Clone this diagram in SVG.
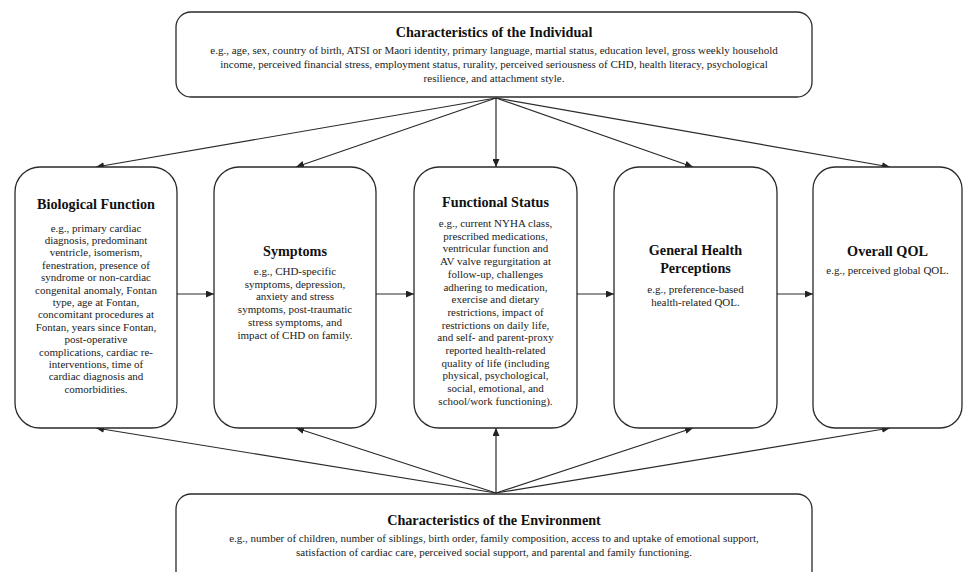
<svg xmlns="http://www.w3.org/2000/svg" width="963" height="572" viewBox="0 0 963 572">
<defs>
<marker id="arr" viewBox="0 0 8 7" refX="8" refY="3.5" markerWidth="8" markerHeight="7" markerUnits="userSpaceOnUse" orient="auto">
<path d="M0,0 L8,3.5 L0,7 z" fill="#222"/>
</marker>
<style>
.box{fill:#fff;stroke:#2a2a2a;stroke-width:1.3}
.ttl{font-weight:bold;font-size:14.2px;fill:#111;text-anchor:middle}
.bd{font-size:11px;fill:#222;text-anchor:middle}
.cn{stroke:#2a2a2a;stroke-width:1.2;fill:none;marker-end:url(#arr)}
</style>
</defs>
<rect width="963" height="572" fill="#fff"/>

<g id="connectors">
<line class="cn" x1="496" y1="98" x2="96" y2="167"/>
<line class="cn" x1="496" y1="98" x2="296" y2="167"/>
<line class="cn" x1="496" y1="98" x2="496" y2="167"/>
<line class="cn" x1="496" y1="98" x2="693" y2="167"/>
<line class="cn" x1="496" y1="98" x2="890" y2="167"/>
<line class="cn" x1="496" y1="493" x2="96" y2="428"/>
<line class="cn" x1="496" y1="493" x2="296" y2="428"/>
<line class="cn" x1="496" y1="493" x2="496" y2="428"/>
<line class="cn" x1="496" y1="493" x2="693" y2="428"/>
<line class="cn" x1="496" y1="493" x2="890" y2="428"/>
<line class="cn" x1="177" y1="294" x2="214" y2="294"/>
<line class="cn" x1="376" y1="294" x2="414" y2="294"/>
<line class="cn" x1="577" y1="294" x2="614" y2="294"/>
<line class="cn" x1="777" y1="294" x2="813" y2="294"/>
</g>

<g font-family="'Liberation Serif', 'DejaVu Serif', serif">
<g id="individual">
<rect class="box" x="176" y="12" width="636" height="85" rx="15"/>
<text class="ttl" x="494" y="37">Characteristics of the Individual</text>
<text class="bd" x="494" y="53.5">e.g., age, sex, country of birth, ATSI or Maori identity, primary language, martial status, education level, gross weekly household</text>
<text class="bd" x="494" y="67.5">income, perceived financial stress, employment status, rurality, perceived seriousness of CHD, health literacy, psychological</text>
<text class="bd" x="494" y="81.5">resilience, and attachment style.</text>
</g>

<g id="biological">
<rect class="box" x="15" y="167" width="162" height="261" rx="25"/>
<text class="ttl" x="96" y="209">Biological Function</text>
<text class="bd" x="96" y="231.5">e.g., primary cardiac</text>
<text class="bd" x="96" y="243.9">diagnosis, predominant</text>
<text class="bd" x="96" y="256.3">ventricle, isomerism,</text>
<text class="bd" x="96" y="268.7">fenestration, presence of</text>
<text class="bd" x="96" y="281.1">syndrome or non-cardiac</text>
<text class="bd" x="96" y="293.5">congenital anomaly, Fontan</text>
<text class="bd" x="96" y="305.9">type, age at Fontan,</text>
<text class="bd" x="96" y="318.3">concomitant procedures at</text>
<text class="bd" x="96" y="330.7">Fontan, years since Fontan,</text>
<text class="bd" x="96" y="343.1">post-operative</text>
<text class="bd" x="96" y="355.5">complications, cardiac re-</text>
<text class="bd" x="96" y="367.9">interventions, time of</text>
<text class="bd" x="96" y="380.3">cardiac diagnosis and</text>
<text class="bd" x="96" y="392.7">comorbidities.</text>
</g>

<g id="symptoms">
<rect class="box" x="214" y="167" width="162" height="261" rx="25"/>
<text class="ttl" x="295" y="255.5">Symptoms</text>
<text class="bd" x="295" y="275">e.g., CHD-specific</text>
<text class="bd" x="295" y="287.7">symptoms, depression,</text>
<text class="bd" x="295" y="300.4">anxiety and stress</text>
<text class="bd" x="295" y="313.1">symptoms, post-traumatic</text>
<text class="bd" x="295" y="325.8">stress symptoms, and</text>
<text class="bd" x="295" y="338.5">impact of CHD on family.</text>
</g>

<g id="functional">
<rect class="box" x="414" y="167" width="163" height="261" rx="25"/>
<text class="ttl" x="495.5" y="207">Functional Status</text>
<text class="bd" x="495.5" y="227">e.g., current NYHA class,</text>
<text class="bd" x="495.5" y="239.7">prescribed medications,</text>
<text class="bd" x="495.5" y="252.4">ventricular function and</text>
<text class="bd" x="495.5" y="265.1">AV valve regurgitation at</text>
<text class="bd" x="495.5" y="277.8">follow-up, challenges</text>
<text class="bd" x="495.5" y="290.5">adhering to medication,</text>
<text class="bd" x="495.5" y="303.2">exercise and dietary</text>
<text class="bd" x="495.5" y="315.9">restrictions, impact of</text>
<text class="bd" x="495.5" y="328.6">restrictions on daily life,</text>
<text class="bd" x="495.5" y="341.3">and self- and parent-proxy</text>
<text class="bd" x="495.5" y="354">reported health-related</text>
<text class="bd" x="495.5" y="366.7">quality of life (including</text>
<text class="bd" x="495.5" y="379.4">physical, psychological,</text>
<text class="bd" x="495.5" y="392.1">social, emotional, and</text>
<text class="bd" x="495.5" y="404.8">school/work functioning).</text>
</g>

<g id="general-health">
<rect class="box" x="614" y="167" width="163" height="261" rx="25"/>
<text class="ttl" x="695.5" y="255">General Health</text>
<text class="ttl" x="695.5" y="272.5">Perceptions</text>
<text class="bd" x="695.5" y="292.5">e.g., preference-based</text>
<text class="bd" x="695.5" y="305.5">health-related QOL.</text>
</g>

<g id="overall">
<rect class="box" x="813" y="167" width="149" height="261" rx="22"/>
<text class="ttl" x="887.5" y="255.5">Overall QOL</text>
<text class="bd" x="887.5" y="273.5">e.g., perceived global QOL.</text>
</g>

<g id="environment">
<rect class="box" x="176" y="494" width="636" height="100" rx="15"/>
<text class="ttl" x="494" y="525">Characteristics of the Environment</text>
<text class="bd" x="494" y="541.5">e.g., number of children, number of siblings, birth order, family composition, access to and uptake of emotional support,</text>
<text class="bd" x="494" y="556">satisfaction of cardiac care, perceived social support, and parental and family functioning.</text>
</g>
</g>
</svg>
